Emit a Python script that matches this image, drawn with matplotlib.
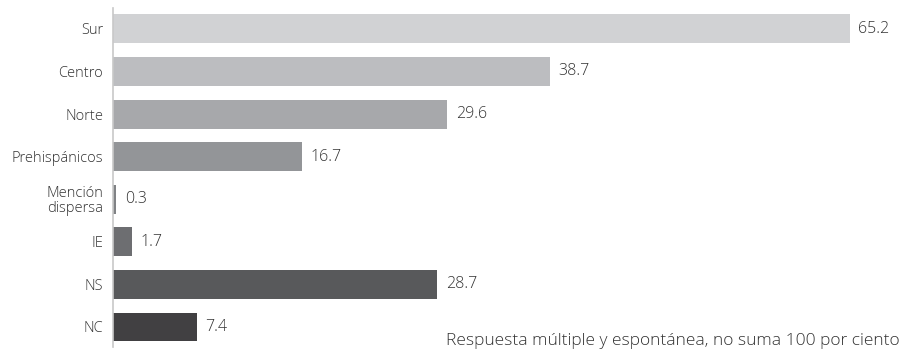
import matplotlib
matplotlib.use("Agg")
import matplotlib.pyplot as plt

categorias = ["Sur", "Centro", "Norte", "Prehispánicos", "Mención\ndispersa",
              "IE", "NS", "NC"]
valores = [65.2, 38.7, 29.6, 16.7, 0.3, 1.7, 28.7, 7.4]
colores = ["#d1d2d4", "#bcbdc0", "#a7a8ab", "#939598", "#808285",
           "#6d6e71", "#58595b", "#414042"]
nota = "Respuesta múltiple y espontánea, no suma 100 por ciento"

plt.rcParams["font.family"] = ["Open Sans", "DejaVu Sans"]
plt.rcParams["font.weight"] = "light"

W, H = 904, 352
fig = plt.figure(figsize=(W / 100, H / 100), dpi=100)

# eje: de x=113 px a x=894 px, ~11.3 px por unidad
x0, x1 = 113, 894
escala = 11.3
ax = fig.add_axes([x0 / W, (H - 347) / H, (x1 - x0) / W, 339 / H])

pos = list(range(len(categorias)))
ax.barh(pos, valores, height=0.68, color=colores, zorder=2)

for y, v in zip(pos, valores):
    ax.annotate(f"{v:.1f}", (v, y), xytext=(6, 0), textcoords="offset points",
                va="center", ha="left", fontsize=11.5, color="#333333",
                fontweight="light")

ax.set_xlim(0, (x1 - x0) / escala)
ax.set_ylim(7.47, -0.49)
ax.set_yticks(pos)
ax.set_yticklabels(categorias, fontsize=10.5, color="#333333",
                   multialignment="right", linespacing=0.95,
                   fontweight="light")
ax.tick_params(axis="y", length=0, pad=7)
ax.set_xticks([])

for lado in ["top", "right", "bottom"]:
    ax.spines[lado].set_visible(False)
ax.spines["left"].set_color("#c8c8c8")
ax.spines["left"].set_linewidth(1.2)
ax.spines["left"].set_zorder(3)

fig.text(900 / W, 1 - 341 / H, nota, ha="right", va="center",
         fontsize=12.5, color="#333333", fontweight="light")

fig.savefig("out.png", dpi=100, facecolor="white")
